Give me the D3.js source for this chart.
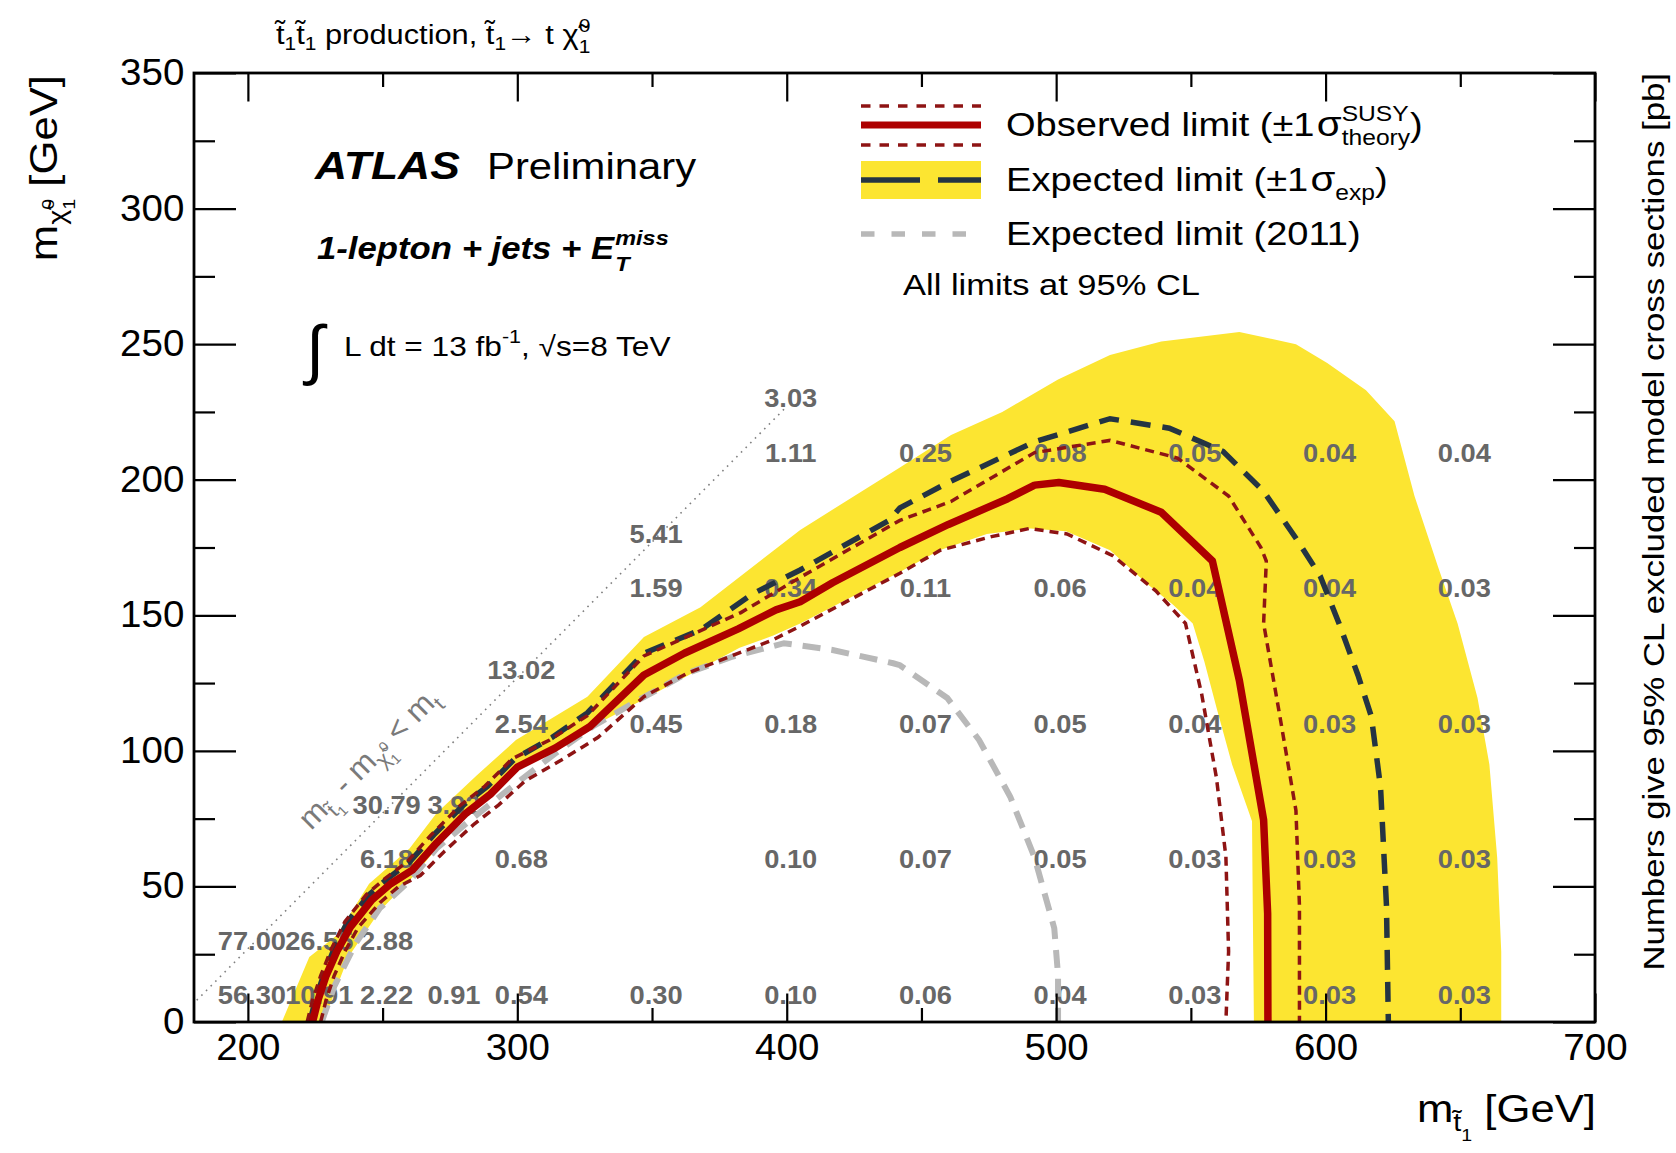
<!DOCTYPE html>
<html><head><meta charset="utf-8">
<script src="https://cdn.jsdelivr.net/npm/d3@7"></script>
<style>
body{margin:0;background:#fff}
text{font-family:"Liberation Sans",Arial,Helvetica,sans-serif;white-space:pre}
</style>
</head><body>
<svg id="c" width="1676" height="1153"></svg>
<script>
// ---------------- data ----------------
const xMajor = [200, 300, 400, 500, 600, 700];
const xMinor = [250, 350, 450, 550, 650];
const yMajor = [0, 50, 100, 150, 200, 250, 300, 350];
const yMinor = [25, 75, 125, 175, 225, 275, 325];

// observed limit (m_stop, m_LSP)
const observed = [[224,0],[226,8],[229,17],[233,26],[238,35],[246,45],[253,51],[261,56],[270,66],[281,77],[290,84],[300,94],[314,101],[327,109],[347,128],[362,136],[382,145],[396,152],[405,155],[417,162],[442,175],[460,183.5],[482,193],[492,198],[501,199],[518,196.5],[539,188],[558,170],[568,126],[577,74.5],[578.5,40],[578.6,0]];
const observedUp = [[222,0],[224,8],[227,17],[231,27],[236,37],[244,47],[251,53],[259,59],[268,69],[279,80],[288,87],[298,97],[312,104],[326,113],[347,135],[365,143],[383,151],[405,164],[442,185],[461,192],[492,210],[520,214.5],[545,208],[564,194],[576,175],[578,170],[577,147],[583,113],[589,78],[590.3,43],[590.3,0]];
const observedDown = [[227,0],[229,8],[232,17],[236,26],[241,35],[249,44],[256,50],[264,54],[273,63],[284,73],[293,80],[303,89],[317,97],[330,105],[347,120],[363,128.6],[395,141],[405,146],[442,165.5],[457,174],[476,179],[490,182],[504,180],[521,172],[537,159],[548,147],[554,121],[559.5,90],[563,61],[564,26],[563,0]];
const expected = [[223,0],[225,8],[228,17],[232,27],[237,37],[245,47],[252,53],[260,59],[269,69],[280,80],[289,87],[299,97],[313,105],[326,114],[347,136],[368,144.6],[387.5,158],[405,166.7],[438,185],[442,189.6],[460,199],[492,214],[520,222.5],[542,219],[562,210.4],[577,195.7],[589,178.4],[598,164.5],[605,147],[612,128],[617,112.6],[620.4,86.6],[622.6,43],[623.3,0]];
const expected2011 = [[227.4,0],[232,13],[240,29],[249,42],[260,52],[270,64],[282,74],[297,86],[314,99],[328,109],[345.5,119],[363,128.6],[380,134.8],[399,139.7],[417,137.2],[439.5,132.3],[442,131.6],[459.6,119.5],[471.4,104],[483,83],[492,60.6],[499.3,34.6],[500.7,17.3],[500.7,0]];
// expected +-1 sigma band: outer edge then inner edge (closed polygon)
const bandOuter = [[212.6,0],[222.8,24],[233,32],[245,51],[260,64],[270,77],[285,91],[299.5,104],[326,120],[347,142],[368,153],[405,181.5],[442,204.5],[461,216.5],[480,225],[500.7,237],[520,246],[539,251],[568,254.5],[589,250],[600.6,243],[615,233],[625.6,221.6],[633,194],[641.7,168],[649,147],[656.4,119.5],[660.8,95],[663.7,60.6],[665.2,26],[665.2,0]];
const bandInner = [[573.4,0],[573,40],[572.7,74],[565.3,95],[559.5,116],[555,133],[550.7,147],[543.3,154],[534.5,161],[520,174],[503.7,181],[490.5,182],[474.3,180],[456.7,174],[442,166],[405,147],[395,142.5],[382.5,138],[347,119],[327,108.5],[307,98.6],[291.5,86.4],[275.7,70.5],[261,53.3],[249,41],[237.3,24],[228,0]];
// kinematic boundary m_stop - m_LSP = m_top
const kinLine = [[181,8],[399,226]];

// excluded cross sections [pb] at grid points
const gridX = [200,225,250,275,300,350,400,450,500,550,600,650,
               200,225,250,
               250,300,400,450,500,550,600,650,
               250,275,
               300,350,400,450,500,550,600,650,
               300,
               350,400,450,500,550,600,650,
               350,
               400,450,500,550,600,650,
               400];
const gridY = [0,0,0,0,0,0,0,0,0,0,0,0,
               20,20,20,
               50,50,50,50,50,50,50,50,
               70,70,
               100,100,100,100,100,100,100,100,
               120,
               150,150,150,150,150,150,150,
               170,
               200,200,200,200,200,200,
               220];
const gridVal = ["56.30","10.91","2.22","0.91","0.54","0.30","0.10","0.06","0.04","0.03","0.03","0.03",
                 "77.00","26.55","2.88",
                 "6.18","0.68","0.10","0.07","0.05","0.03","0.03","0.03",
                 "30.79","3.92",
                 "2.54","0.45","0.18","0.07","0.05","0.04","0.03","0.03",
                 "13.02",
                 "1.59","0.34","0.11","0.06","0.04","0.04","0.03",
                 "5.41",
                 "1.11","0.25","0.08","0.05","0.04","0.04",
                 "3.03"];

// ---------------- layout ----------------
const svg = d3.select("#c");
const L = 194, R = 1595, T = 73, B = 1022;
const x = d3.scaleLinear().domain([180, 700]).range([L, R]);
const y = d3.scaleLinear().domain([0, 350]).range([B, T]);

const C = {
  yellow: "#fce531", red: "#ad0000", redDot: "#8e1414",
  exp: "#243443", gray: "#b8b8b8", label: "#676767"
};

svg.append("defs").append("clipPath").attr("id","pc")
  .append("rect").attr("x",L).attr("y",T).attr("width",R-L).attr("height",B-T);
const plot = svg.append("g").attr("clip-path","url(#pc)");

const line = d3.line().x(d => x(d[0])).y(d => y(d[1]));

// band
plot.append("path").attr("d", line(bandOuter.concat(bandInner)) + "Z")
  .attr("fill", C.yellow).attr("stroke","none");

// kinematic line
plot.append("path").attr("d", line(kinLine)).attr("fill","none")
  .attr("stroke","#808080").attr("stroke-width",1.6).attr("stroke-dasharray","1.6,5");

// grid numbers
plot.append("g").selectAll("text").data(gridVal).join("text")
  .attr("transform", (d,i) => `translate(${x(gridX[i]) + 4},${y(gridY[i]) - 18}) scale(1.07,1)`)
  .attr("text-anchor","middle").attr("font-size",25.5).attr("font-weight","bold")
  .attr("fill", C.label).text(d => d);

// curves
plot.append("path").attr("d", line(expected2011)).attr("fill","none")
  .attr("stroke", C.gray).attr("stroke-width",6).attr("stroke-dasharray","18,11");
plot.append("path").attr("d", line(expected)).attr("fill","none")
  .attr("stroke", C.exp).attr("stroke-width",5.5).attr("stroke-dasharray","20,12");
[observedUp, observedDown].forEach(c => plot.append("path").attr("d", line(c)).attr("fill","none")
  .attr("stroke", C.redDot).attr("stroke-width",3.5).attr("stroke-dasharray","9,6"));
plot.append("path").attr("d", line(observed)).attr("fill","none")
  .attr("stroke", C.red).attr("stroke-width",7.5).attr("stroke-linejoin","round");

// ---------------- axes ----------------
const fsTick = 36;
function styleAxis(g){
  g.select(".domain").remove();
  g.selectAll("line").attr("stroke","#000").attr("stroke-width",2.2);
  g.selectAll("text").attr("font-size",fsTick).attr("fill","#000")
    .attr("font-family",'"Liberation Sans",Arial,sans-serif').attr("transform","scale(1.07,1)");
}
svg.append("g").attr("transform",`translate(0,${B})`)
  .call(d3.axisBottom(x).tickValues(xMajor).tickSizeInner(-28.5).tickSizeOuter(0).tickPadding(12.8).tickFormat(d3.format("d"))).call(styleAxis);
svg.append("g").attr("transform",`translate(0,${B})`)
  .call(d3.axisBottom(x).tickValues(xMinor).tickSizeInner(-14).tickSizeOuter(0).tickFormat("")).call(styleAxis);
svg.append("g").attr("transform",`translate(0,${T})`)
  .call(d3.axisTop(x).tickValues(xMajor).tickSizeInner(-28.5).tickSizeOuter(0).tickFormat("")).call(styleAxis);
svg.append("g").attr("transform",`translate(0,${T})`)
  .call(d3.axisTop(x).tickValues(xMinor).tickSizeInner(-14).tickSizeOuter(0).tickFormat("")).call(styleAxis);
svg.append("g").attr("transform",`translate(${L},0)`)
  .call(d3.axisLeft(y).tickValues(yMajor).tickSizeInner(-42).tickSizeOuter(0).tickPadding(9).tickFormat(d3.format("d"))).call(styleAxis);
svg.append("g").attr("transform",`translate(${L},0)`)
  .call(d3.axisLeft(y).tickValues(yMinor).tickSizeInner(-21).tickSizeOuter(0).tickFormat("")).call(styleAxis);
svg.append("g").attr("transform",`translate(${R},0)`)
  .call(d3.axisRight(y).tickValues(yMajor).tickSizeInner(-42).tickSizeOuter(0).tickFormat("")).call(styleAxis);
svg.append("g").attr("transform",`translate(${R},0)`)
  .call(d3.axisRight(y).tickValues(yMinor).tickSizeInner(-21).tickSizeOuter(0).tickFormat("")).call(styleAxis);
svg.append("rect").attr("x",L).attr("y",T).attr("width",R-L).attr("height",B-T)
  .attr("fill","none").attr("stroke","#000").attr("stroke-width",2.8);

// ---------------- rich text helper ----------------
function rich(parent, tx, ty, parts, opt){
  opt = opt || {};
  const sx = opt.sx || 1;
  const g = parent.append("g").attr("transform",
    `translate(${tx},${ty})` + (opt.rot ? ` rotate(${opt.rot})` : "") + ` scale(${sx},1)`);
  let cx = 0, stackStart = 0;
  parts.forEach(p => {
    const t = g.append("text").attr("font-size", p.fs).attr("y", p.dy || 0)
      .attr("fill", p.fill || opt.fill || "#000").text(p.t);
    if (p.w) t.attr("font-weight", p.w);
    if (p.s) t.attr("font-style", p.s);
    const px = p.under ? stackStart : cx + (p.dx || 0);
    if (!p.under) stackStart = px;
    t.attr("x", px);
    const w = t.node().getComputedTextLength();
    cx = p.under ? Math.max(cx, px + w) : px + w;
  });
  if (opt.anchor === "end") g.selectAll("text").attr("x", function(){ return +this.getAttribute("x") - cx; });
  return g;
}
const TL = "t\u0303", CHI = "\u03C7\u0303";

// title
rich(svg, 276, 44, [
  {t:TL, fs:28},{t:"1", fs:19, dy:6},{t:TL, fs:28},{t:"1", fs:19, dy:6},
  {t:" production, ", fs:28},{t:TL, fs:28},{t:"1", fs:19, dy:6},{t:"\u2192 t ", fs:28},
  {t:CHI, fs:28},{t:"0", fs:19, dy:-12},{t:"1", fs:19, dy:9, under:true}
], {sx:1.1});

// axis titles
rich(svg, 1596, 1122, [
  {t:"m", fs:38},{t:TL, fs:25, dy:9},{t:"1", fs:17, dy:19},{t:" [GeV]", fs:38}
], {anchor:"end", sx:1.15});
rich(svg, 57, 75, [
  {t:"m", fs:38},{t:CHI, fs:25, dy:9},{t:"0", fs:17, dy:-3},{t:"1", fs:17, dy:18, under:true},{t:" [GeV]", fs:38}
], {anchor:"end", rot:-90, sx:1.15});
rich(svg, 1664, 73, [
  {t:"Numbers give 95% CL excluded model cross sections [pb]", fs:30}
], {anchor:"end", rot:-90, sx:1.16});

// ATLAS labels
rich(svg, 315, 179, [{t:"ATLAS", fs:38, w:"bold", s:"italic"}], {sx:1.17});
rich(svg, 487, 179, [{t:"Preliminary", fs:37}], {sx:1.13});
rich(svg, 317, 259, [
  {t:"1-lepton + jets + E", fs:31, w:"bold", s:"italic"},
  {t:"miss", fs:21, w:"bold", s:"italic", dy:-14, dx:1},
  {t:"T", fs:21, w:"bold", s:"italic", dy:12, under:true}
], {sx:1.12});
svg.append("text").attr("x",306).attr("y",372).attr("font-size",66).text("\u222B");
rich(svg, 344, 356, [
  {t:"L dt = 13 fb", fs:28},{t:"-1", fs:19, dy:-13},{t:", \u221As=8 TeV", fs:28}
], {sx:1.13});

// diagonal label
rich(svg, 311, 831, [
  {t:"m", fs:31},{t:TL, fs:21, dy:8},{t:"1", fs:14, dy:13},{t:" - m", fs:31},
  {t:CHI, fs:21, dy:8},{t:"0", fs:14, dy:-3},{t:"1", fs:14, dy:14, under:true},
  {t:" < m", fs:31},{t:"t", fs:21, dy:8}
], {rot:-45.2, fill:"#7a7a7a", sx:1.03});

// ---------------- legend ----------------
const lg = svg.append("g");
const lx0 = 861, lx1 = 981;
[106, 145].forEach(yy => lg.append("line").attr("x1",lx0).attr("x2",lx1).attr("y1",yy).attr("y2",yy)
  .attr("stroke",C.redDot).attr("stroke-width",3.5).attr("stroke-dasharray","9.5,9"));
lg.append("line").attr("x1",lx0).attr("x2",lx1).attr("y1",125).attr("y2",125)
  .attr("stroke",C.red).attr("stroke-width",7);
lg.append("rect").attr("x",lx0).attr("y",161).attr("width",lx1-lx0).attr("height",38).attr("fill",C.yellow);
lg.append("line").attr("x1",lx0).attr("x2",lx1).attr("y1",180).attr("y2",180)
  .attr("stroke",C.exp).attr("stroke-width",5.5).attr("stroke-dasharray","59,18");
lg.append("line").attr("x1",lx0).attr("x2",lx1).attr("y1",234).attr("y2",234)
  .attr("stroke",C.gray).attr("stroke-width",5.5).attr("stroke-dasharray","13.5,17");

rich(lg, 1006, 136, [
  {t:"Observed limit (\u00B11", fs:34},{t:"\u03C3", fs:36, dx:2},
  {t:"SUSY", fs:22, dy:-15},{t:"theory", fs:22, dy:9, under:true},{t:")", fs:34}
], {sx:1.12});
rich(lg, 1006, 191, [
  {t:"Expected limit (\u00B11", fs:34},{t:"\u03C3", fs:36, dx:2},
  {t:"exp", fs:22, dy:9},{t:")", fs:34}
], {sx:1.12});
rich(lg, 1006, 245, [{t:"Expected limit (2011)", fs:34}], {sx:1.12});
rich(lg, 903, 295, [{t:"All limits at 95% CL", fs:30}], {sx:1.15});
</script>
</body></html>
